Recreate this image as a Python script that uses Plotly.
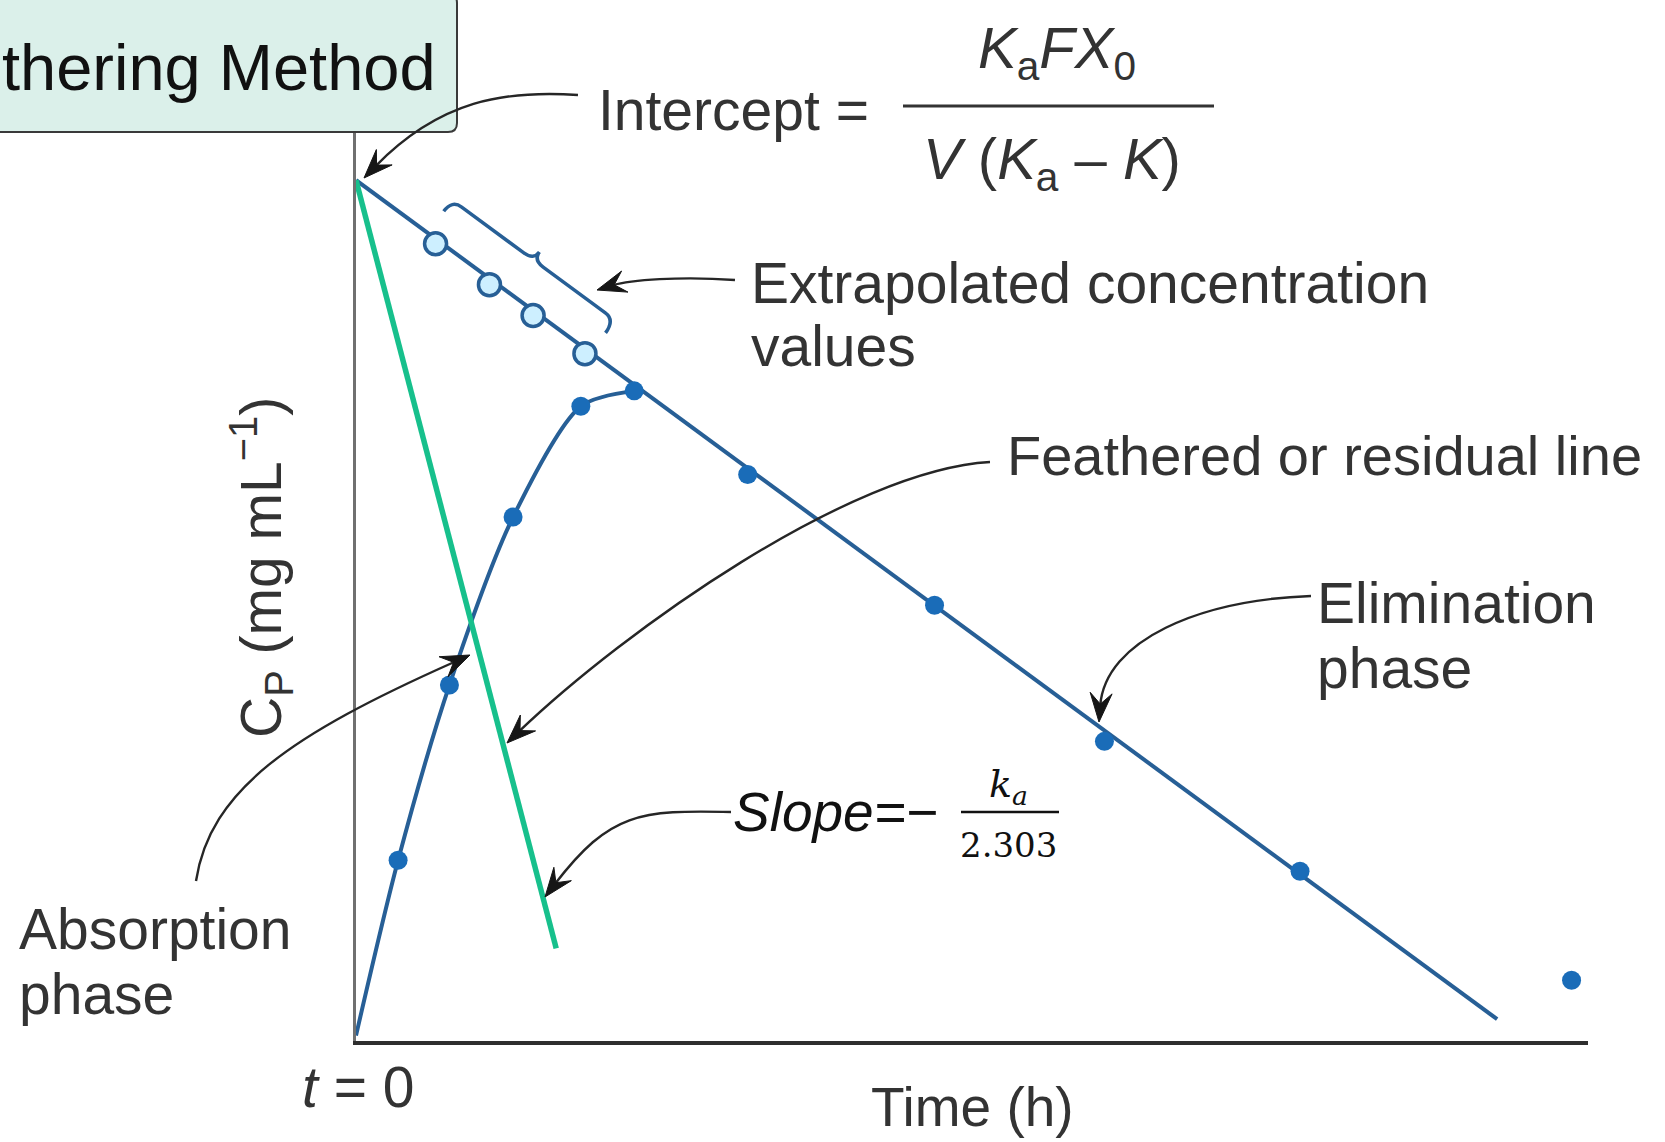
import math
import plotly.graph_objects as go

# ---------------- data (time in h, log-concentration in arbitrary units) ----------------
elim_line_t = [0.0, 22.23]
elim_line_y = [9.48, 0.24]

extrap_t = [1.55, 2.60, 3.45, 4.46]
extrap_y = [8.78, 8.33, 7.99, 7.57]

absorb_t = [0.0, 0.82, 1.82, 3.06, 4.38, 5.42]
absorb_y = [0.06, 1.99, 3.92, 5.77, 6.99, 7.16]

elim_t = [7.63, 11.27, 14.58, 18.39, 23.68]
elim_y = [6.24, 4.80, 3.30, 1.87, 0.67]

feather_t = [0.0, 3.90]
feather_y = [9.48, 1.02]

X_RANGE = [0, 24]
Y_RANGE = [0, 10]

# ---------------- page geometry ----------------
W, H = 1665, 1142
PX0, PX1 = 356, 1588      # plot area left/right (px)
PYT, PYB = 133, 1041      # plot area top/bottom (px)


def fx(px):
    return px / W


def fy(py):
    return 1 - py / H


def P(x, y):
    return f"{fx(x)},{fy(y)}"


LINE_BLUE = "#275f96"
DOT_BLUE = "#1a6cb8"
GREEN = "#17c08c"
INK = "#262626"
TXT = "#333333"
SANS = "Liberation Sans, Arial, sans-serif"

fig = go.Figure()

# elimination line (extrapolated back to intercept)
fig.add_trace(go.Scatter(x=elim_line_t, y=elim_line_y, mode="lines",
                         line=dict(color=LINE_BLUE, width=4), hoverinfo="skip", cliponaxis=False))
# absorption curve
fig.add_trace(go.Scatter(x=absorb_t, y=absorb_y, mode="lines",
                         line=dict(color=LINE_BLUE, width=4, shape="spline", smoothing=0.8),
                         hoverinfo="skip", cliponaxis=False))
# measured points (absorption, without the t = 0 origin, and elimination)
fig.add_trace(go.Scatter(x=absorb_t[1:] + elim_t, y=absorb_y[1:] + elim_y, mode="markers",
                         marker=dict(color=DOT_BLUE, size=19, line=dict(width=0)),
                         hoverinfo="skip", cliponaxis=False))
# extrapolated (open) concentration values
fig.add_trace(go.Scatter(x=extrap_t, y=extrap_y, mode="markers",
                         marker=dict(color="#cdefff", size=22, line=dict(color=LINE_BLUE, width=3.5)),
                         hoverinfo="skip", cliponaxis=False))
# feathered / residual line
fig.add_trace(go.Scatter(x=feather_t, y=feather_y, mode="lines",
                         line=dict(color=GREEN, width=5.5), hoverinfo="skip", cliponaxis=False))

shapes = []
annotations = []

# ---- title box (rounded right corners) ----
r = 9
bx0, bx1, by0, by1 = -30, 457, -6, 132
box_path = (f"M {P(bx0, by0)} L {P(bx1 - r, by0)} Q {P(bx1, by0)} {P(bx1, by0 + r)} "
            f"L {P(bx1, by1 - r)} Q {P(bx1, by1)} {P(bx1 - r, by1)} L {P(bx0, by1)} Z")
shapes.append(dict(type="path", xref="paper", yref="paper", path=box_path,
                   fillcolor="#dbf0ea", line=dict(color="#3a3a3a", width=2), layer="above"))
annotations.append(dict(xref="paper", yref="paper", x=fx(438), y=fy(68), xanchor="right", yanchor="middle",
                        text="thering Method", showarrow=False,
                        font=dict(family=SANS, size=65, color="#111111")))

# ---- curved arrows (cubic Bezier, pixel coords) with stealth heads ----
arrows = [
    ((578, 95), (505, 90), (440, 100), (364, 178)),      # intercept
    ((735, 280), (680, 276), (630, 280), (597, 290)),    # extrapolated
    ((990, 462), (850, 470), (624, 631), (507, 743)),    # feathered line
    ((196, 881), (210, 790), (290, 735), (470, 655)),    # absorption phase
    ((1311, 596), (1200, 600), (1105, 640), (1099, 722)),  # elimination phase
    ((731, 812), (640, 810), (610, 812), (545, 897)),    # slope
]
HEAD_LEN, HEAD_HW, NOTCH = 29, 11, 0.62
for p0, c1, c2, p3 in arrows:
    dx, dy = p3[0] - c2[0], p3[1] - c2[1]
    n = math.hypot(dx, dy)
    ux_, uy_ = dx / n, dy / n
    px_, py_ = -uy_, ux_
    # shorten the curve so its end hides inside the head
    end = (p3[0] - ux_ * HEAD_LEN * 0.55, p3[1] - uy_ * HEAD_LEN * 0.55)
    path = f"M {P(*p0)} C {P(*c1)} {P(*c2)} {P(*end)}"
    shapes.append(dict(type="path", xref="paper", yref="paper", path=path,
                       line=dict(color=INK, width=2.4)))
    bx, by = p3[0] - ux_ * HEAD_LEN, p3[1] - uy_ * HEAD_LEN
    nxp, nyp = p3[0] - ux_ * HEAD_LEN * NOTCH, p3[1] - uy_ * HEAD_LEN * NOTCH
    head = (f"M {P(*p3)} L {P(bx + px_ * HEAD_HW, by + py_ * HEAD_HW)} L {P(nxp, nyp)} "
            f"L {P(bx - px_ * HEAD_HW, by - py_ * HEAD_HW)} Z")
    shapes.append(dict(type="path", xref="paper", yref="paper", path=head,
                       fillcolor="#161616", line=dict(color="#161616", width=1)))

# ---- brace next to the extrapolated values ----
ux, uy = 0.806, 0.592
nx, ny = 0.592, -0.806
A = (452, 200)
B = (615, 320)
M = ((A[0] + B[0]) / 2, (A[1] + B[1]) / 2)

brace = (f"M {P(A[0] - 14 * nx, A[1] - 14 * ny)} Q {P(*A)} {P(A[0] + 12 * ux, A[1] + 12 * uy)} "
         f"L {P(M[0] - 12 * ux, M[1] - 12 * uy)} Q {P(*M)} {P(M[0] + 10 * nx, M[1] + 10 * ny)} "
         f"Q {P(*M)} {P(M[0] + 12 * ux, M[1] + 12 * uy)} "
         f"L {P(B[0] - 12 * ux, B[1] - 12 * uy)} Q {P(*B)} {P(B[0] - 16 * nx, B[1] - 16 * ny)}")
shapes.append(dict(type="path", xref="paper", yref="paper", path=brace,
                   line=dict(color=LINE_BLUE, width=3.5)))

# ---- fraction bars ----
shapes.append(dict(type="line", xref="paper", yref="paper", x0=fx(903), x1=fx(1214), y0=fy(106), y1=fy(106),
                   line=dict(color=TXT, width=3)))
shapes.append(dict(type="line", xref="paper", yref="paper", x0=fx(961), x1=fx(1059), y0=fy(812), y1=fy(812),
                   line=dict(color="#111111", width=2.5)))


def label(text, px, py, xanchor="left", size=57, family=SANS, color=TXT, angle=0):
    annotations.append(dict(xref="paper", yref="paper", x=fx(px), y=fy(py), xanchor=xanchor,
                            yanchor="middle", text=text, showarrow=False, textangle=angle,
                            font=dict(family=family, size=size, color=color)))


label("Intercept =", 596, 110)
label("<i>K</i><sub>a</sub><i>FX</i><sub>0</sub>", 1057, 52, xanchor="center", size=58)
label("<i>V</i> (<i>K</i><sub>a</sub> – <i>K</i>)", 1052, 163, xanchor="center", size=58)
label("Extrapolated concentration", 749, 283)
label("values", 749, 346)
label("Feathered or residual line", 1005, 455, size=56)
label("Elimination", 1315, 603)
label("phase", 1315, 668)
label("Absorption", 17, 929)
label("phase", 17, 994)
label("<i>Slope=−</i>", 731, 812, size=55, color="#111111")
label("<i>k</i><sub><i>a</i></sub>", 1008, 786, xanchor="center", size=38,
      family="DejaVu Serif, serif", color="#111111")
label("2.303", 1008, 845, xanchor="center", size=34, family="DejaVu Serif, serif", color="#111111")
label("C<sub>P</sub> (mg mL<sup>−1</sup>)", 261, 568, xanchor="center", angle=-90)
label("<i>t</i> = 0", 358, 1087, xanchor="center")
label("Time (h)", 972, 1107, xanchor="center", size=55)

fig.update_layout(
    width=W, height=H,
    margin=dict(l=0, r=0, t=0, b=0),
    paper_bgcolor="white", plot_bgcolor="white",
    showlegend=False,
    xaxis=dict(domain=[fx(PX0), fx(PX1)], range=X_RANGE, showgrid=False, zeroline=False,
               showticklabels=False, ticks="", showline=True, linecolor="#2e2e2e", linewidth=4,
               fixedrange=True),
    yaxis=dict(domain=[fy(PYB), fy(PYT)], range=Y_RANGE, showgrid=False, zeroline=False,
               showticklabels=False, ticks="", showline=True, linecolor="#707070", linewidth=3,
               fixedrange=True),
    shapes=shapes,
    annotations=annotations,
)

fig.write_html("out.html", config={"displayModeBar": False},
               post_script="document.body.style.margin='0';document.body.style.overflow='hidden';")
